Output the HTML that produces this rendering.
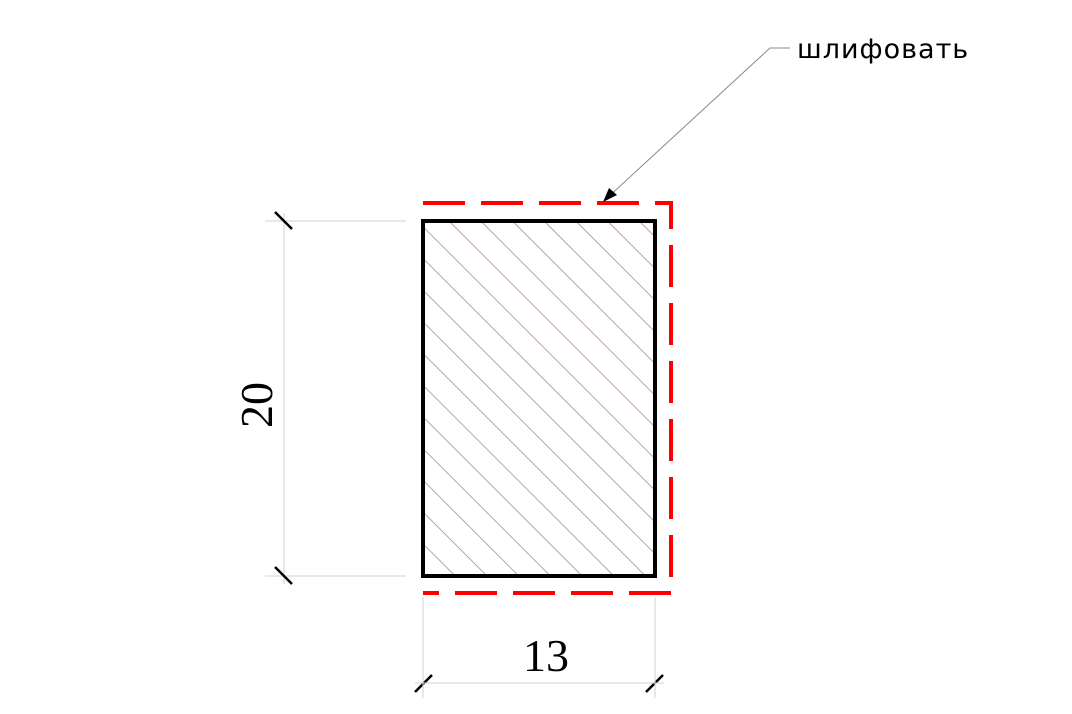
<!DOCTYPE html>
<html><head><meta charset="utf-8"><style>
html,body{margin:0;padding:0;background:#fff;}
svg{display:block;}
</style></head><body>
<svg width="1072" height="714" viewBox="0 0 1072 714">
<defs>
<clipPath id="rc"><rect x="423" y="221" width="232" height="355"/></clipPath>
</defs>
<g id="hatch" clip-path="url(#rc)" stroke="#b49c9c" stroke-width="0.9"></g>
<rect x="423" y="221" width="232" height="355" fill="none" stroke="#000" stroke-width="4"/>
<polyline points="423,203 671,203 671,593 423,593" fill="none" stroke="#f00" stroke-width="4" stroke-dasharray="42 16"/>
<g>
<line x1="606" y1="199" x2="770" y2="48" stroke="#888" stroke-width="1"/>
<line x1="770" y1="48" x2="790" y2="48" stroke="#888" stroke-width="1"/>
<polygon points="603,202 609,188 617,195" fill="#000"/>
</g>
<text x="797" y="58" font-family="'DejaVu Sans','Liberation Sans',sans-serif" font-size="27" letter-spacing="1" fill="#000">шлифовать</text>
<g stroke="#d0d0d0" stroke-width="1">
<line x1="265" y1="221" x2="406" y2="221"/>
<line x1="265" y1="576" x2="406" y2="576"/>
<line x1="284" y1="213" x2="284" y2="584"/>
</g>
<g stroke="#000" stroke-width="2.5">
<line x1="275" y1="212" x2="292" y2="229"/>
<line x1="275" y1="567" x2="292" y2="584"/>
<line x1="415" y1="692" x2="432" y2="675"/>
<line x1="646" y1="692" x2="663" y2="675"/>
</g>
<g stroke="#d0d0d0" stroke-width="1">
<line x1="423" y1="597" x2="423" y2="698"/>
<line x1="655" y1="597" x2="655" y2="698"/>
<line x1="415" y1="683" x2="664" y2="683"/>
</g>
<text x="0" y="0" transform="translate(272,405) rotate(-90)" text-anchor="middle" font-family="'Liberation Serif',serif" font-size="46" fill="#000">20</text>
<text x="546" y="671" text-anchor="middle" font-family="'Liberation Serif',serif" font-size="46" fill="#000">13</text>
</svg>
<script>
var g=document.getElementById('hatch');
for(var i=-14;i<10;i++){
 var x0=450+i*31.7;
 var l=document.createElementNS('http://www.w3.org/2000/svg','line');
 l.setAttribute('x1',x0);l.setAttribute('y1',222);
 l.setAttribute('x2',x0+400);l.setAttribute('y2',622);
 
 
 g.appendChild(l);
}
</script>
</body></html>
